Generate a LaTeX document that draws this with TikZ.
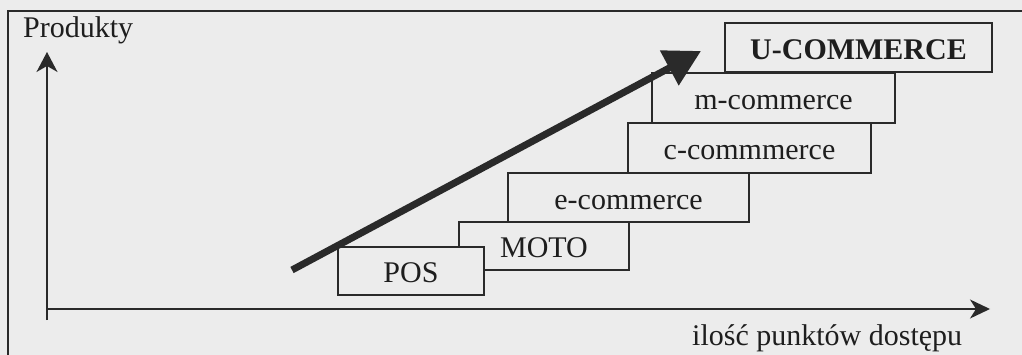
\documentclass[tikz,border=0pt]{standalone}
\usepackage{fontspec}
\setmainfont{Liberation Serif}
\usetikzlibrary{arrows.meta}
\definecolor{bg}{RGB}{236,236,236}
\definecolor{ink}{RGB}{42,42,42}
\definecolor{txt}{RGB}{30,30,30}
\tikzset{
  stage/.style={draw=ink, line width=1.8pt, fill=bg, inner sep=0pt,
    text=txt, font=\fontsize{30}{36}\selectfont,
    text height=24pt, text depth=0pt, minimum height=49pt},
  axis/.style={draw=ink, line width=1.6pt},
  label/.style={text=txt, font=\fontsize{30}{36}\selectfont, inner sep=0pt},
}
\begin{document}
\begin{tikzpicture}[x=1pt,y=-1pt]
\useasboundingbox (0,0) rectangle (1022,355);
\clip (0,0) rectangle (1022,355);
\fill[bg] (0,0) rectangle (1022,355);
% frame
\draw[ink, line width=2pt] (8,11) rectangle (1060,400);
% axis labels
\node[label, anchor=base west] (prod) at (23,38) {Produkty};
\node[label, anchor=base west] (ilosc) at (692,345) {ilość punktów dostępu};
% axes
\coordinate (ybot) at (47,320);
\coordinate (ytop) at (47,52);
\coordinate (xl) at (47,309);
\coordinate (xr) at (990,309);
\draw[axis, -{Stealth[length=20pt,width=21pt,inset=6pt]}] (ybot) -- (ytop);
\draw[axis, -{Stealth[length=20pt,width=19pt,inset=6pt]}] (xl) -- (xr);
% stages
\node[stage, minimum width=267pt, font=\fontsize{30}{36}\selectfont\bfseries] (u) at (858.5,47.5) {U-COMMERCE};
\node[stage, minimum width=243pt, minimum height=50pt] (m) at (773.5,98) {m-commerce};
\node[stage, minimum width=243pt, minimum height=50pt] (c) at (749.5,148) {c-commmerce};
\node[stage, minimum width=241pt] (e) at (628.5,197.5) {e-commerce};
\node[stage, minimum width=170pt, minimum height=48pt] (moto) at (544,246) {MOTO};
\node[stage, minimum width=146pt, minimum height=48pt] (pos) at (411,271) {POS};
% growth arrow
\coordinate (gs) at (292,270);
\coordinate (ge) at (701,51);
\draw[ink, line width=7pt, -{Triangle[length=36pt,width=38pt]}] (gs) -- (ge);
\end{tikzpicture}
\end{document}
